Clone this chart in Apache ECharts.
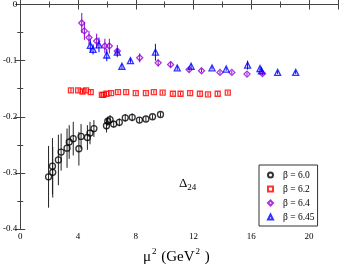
<!DOCTYPE html>
<html><head><meta charset="utf-8">
<script src="https://cdn.jsdelivr.net/npm/echarts@6/dist/echarts.min.js"></script>
<style>html,body{margin:0;padding:0;background:#fff}#c{width:341px;height:266px}</style>
</head><body><div id="c"></div>
<script>
// beta = 6.0
const x60 = [1.96,2.23,2.25,2.64,2.83,3.24,3.39,3.67,4.06,4.21,4.65,4.83,5.10,5.97,6.06,6.22,6.47,6.86,7.27,7.75,8.25,8.70,9.16,9.71];
const y60 = [-0.307,-0.288,-0.299,-0.277,-0.263,-0.256,-0.245,-0.239,-0.257,-0.235,-0.237,-0.229,-0.221,-0.216,-0.208,-0.205,-0.213,-0.210,-0.202,-0.201,-0.206,-0.204,-0.200,-0.196];
const e60 = [0.055,0.050,0.045,0.045,0.033,0.035,0.030,0.030,0.030,0.022,0.022,0.020,0.015,0.012,0.008,0.008,0.006,0.007,0.007,0.007,0.005,0.004,0.004,0.004];
// beta = 6.2
const x62 = [3.51,4.01,4.31,4.56,4.88,5.65,5.76,5.97,6.29,6.77,7.33,8.00,8.70,9.25,9.86,10.57,11.10,11.76,12.44,13.00,13.67,14.37];
const y62 = [-0.153,-0.153,-0.155,-0.153,-0.156,-0.161,-0.161,-0.159,-0.158,-0.156,-0.156,-0.158,-0.158,-0.156,-0.157,-0.159,-0.159,-0.158,-0.159,-0.160,-0.159,-0.157];
const e62 = [0.004,0.004,0.004,0.004,0.004,0.004,0.004,0.004,0.004,0.003,0.003,0.003,0.003,0.003,0.003,0.003,0.003,0.003,0.003,0.003,0.003,0.003];
// beta = 6.4
const x64 = [4.26,4.44,4.76,5.29,5.86,6.17,6.72,8.27,9.55,10.41,11.69,12.55,13.83,14.65,15.70,16.77];
const y64 = [-0.033,-0.047,-0.059,-0.065,-0.074,-0.074,-0.083,-0.095,-0.104,-0.107,-0.116,-0.118,-0.121,-0.121,-0.124,-0.123];
const e64 = [0.018,0.016,0.012,0.013,0.013,0.013,0.011,0.008,0.006,0.005,0.004,0.003,0.003,0.003,0.003,0.003];
// beta = 6.45
const x645 = [4.85,5.04,5.45,5.99,6.72,7.04,7.63,9.36,10.87,11.83,13.28,14.26,15.74,16.60,16.70,17.82,19.07];
const y645 = [-0.073,-0.080,-0.072,-0.090,-0.085,-0.110,-0.100,-0.085,-0.113,-0.110,-0.113,-0.115,-0.108,-0.114,-0.118,-0.121,-0.121];
const e645 = [0.012,0.009,0.013,0.011,0.007,0.004,0.004,0.015,0.004,0.004,0.003,0.003,0.008,0.003,0.003,0.003,0.003];
const xTicks = [0,4,8,12,16,20];
const yTicks = [0,-0.1,-0.2,-0.3,-0.4];

const FONT = 'Liberation Serif';
function pts(xs, ys, es){ return xs.map((v,i)=>[v, ys[i], es[i]]); }
function errSeries(xs, ys, es, color){
  return {
    type:'custom', silent:true, z:1,
    data: pts(xs, ys, es),
    renderItem: function(params, api){
      const x = api.value(0), y = api.value(1), e = api.value(2);
      const p1 = api.coord([x, y + e]), p2 = api.coord([x, y - e]);
      return {type:'line', shape:{x1:p1[0], y1:p1[1], x2:p2[0], y2:p2[1]}, style:{stroke:color, lineWidth:1}};
    }
  };
}
function scatter(name, xs, ys, es, color, symbol, size){
  return {
    name, type:'scatter', z:3, symbol, symbolSize:size,
    data: pts(xs, ys, es),
    itemStyle:{color:'rgba(0,0,0,0)', borderColor:color, borderWidth:1.3}
  };
}
const cBlack = '#000000', cRed = '#ff0000', cPurple = '#9400d3', cBlue = '#0000ff';

const axisCommon = {
  axisLine:{show:true, lineStyle:{color:'#444', width:1}},
  axisTick:{show:true, inside:true, length:5, lineStyle:{color:'#444'}},
  minorTick:{show:true, splitNumber:2, length:3, lineStyle:{color:'#444'}},
  splitLine:{show:false}
};
const chart = echarts.init(document.getElementById('c'));
chart.setOption({
  animation:false,
  backgroundColor:'#fff',
  grid:{left:18, top:4, right:3, bottom:37},
  xAxis:[
    Object.assign({type:'value', min:0, max:22, interval:4, position:'bottom',
      axisLabel:{show:true, margin:3, fontSize:9, fontFamily:FONT, color:'#000', showMaxLabel:false,
        formatter:v=> xTicks.indexOf(v)>=0 ? String(v) : ''}}, axisCommon),
    Object.assign({type:'value', min:0, max:22, interval:4, position:'top', axisLabel:{show:false}}, axisCommon)
  ],
  yAxis:[
    Object.assign({type:'value', min:-0.4, max:0, interval:0.1, position:'left',
      axisLabel:{show:true, margin:3, fontSize:9, fontFamily:FONT, color:'#000',
        formatter:v=>{ const r = Math.round(v*10)/10; return r===0 ? '0' : String(r); }}}, axisCommon),
    Object.assign({type:'value', min:-0.4, max:0, interval:0.1, position:'right', axisLabel:{show:false}}, axisCommon)
  ],
  legend:{
    orient:'vertical', left:259, top:165, itemWidth:5, itemHeight:5, itemGap:4,
    padding:[5,3,4,8], borderColor:'#333', borderWidth:1, backgroundColor:'#fff',
    textStyle:{fontFamily:FONT, fontSize:9.5, color:'#000', padding:[0,0,0,5]},
    data:['β = 6.0','β = 6.2','β = 6.4','β = 6.45']
  },
  series:[
    errSeries(x60, y60, e60, '#222'),
    errSeries(x62, y62, e62, cRed),
    errSeries(x64, y64, e64, cPurple),
    errSeries(x645, y645, e645, cBlue),
    scatter('β = 6.0', x60, y60, e60, cBlack, 'circle', 6),
    scatter('β = 6.2', x62, y62, e62, cRed, 'rect', 5),
    scatter('β = 6.4', x64, y64, e64, cPurple, 'diamond', 6),
    scatter('β = 6.45', x645, y645, e645, cBlue, 'triangle', 6)
  ],
  graphic:[
    {type:'text', left:143, top:247, style:{
      text:'{m|μ}{s|2}{m| (GeV}{s|2}{m| )}', fill:'#000',
      rich:{m:{fontFamily:FONT, fontSize:15, lineHeight:18, verticalAlign:'bottom'},
            s:{fontFamily:FONT, fontSize:9, lineHeight:18, verticalAlign:'top', padding:[0,1,0,1]}}
    }},
    {type:'text', left:179, top:177, style:{
      text:'{m|Δ}{s|24}', fill:'#000',
      rich:{m:{fontFamily:FONT, fontSize:13, lineHeight:15, verticalAlign:'top'},
            s:{fontFamily:FONT, fontSize:9, lineHeight:15, verticalAlign:'bottom'}}
    }}
  ]
});
</script></body></html>
